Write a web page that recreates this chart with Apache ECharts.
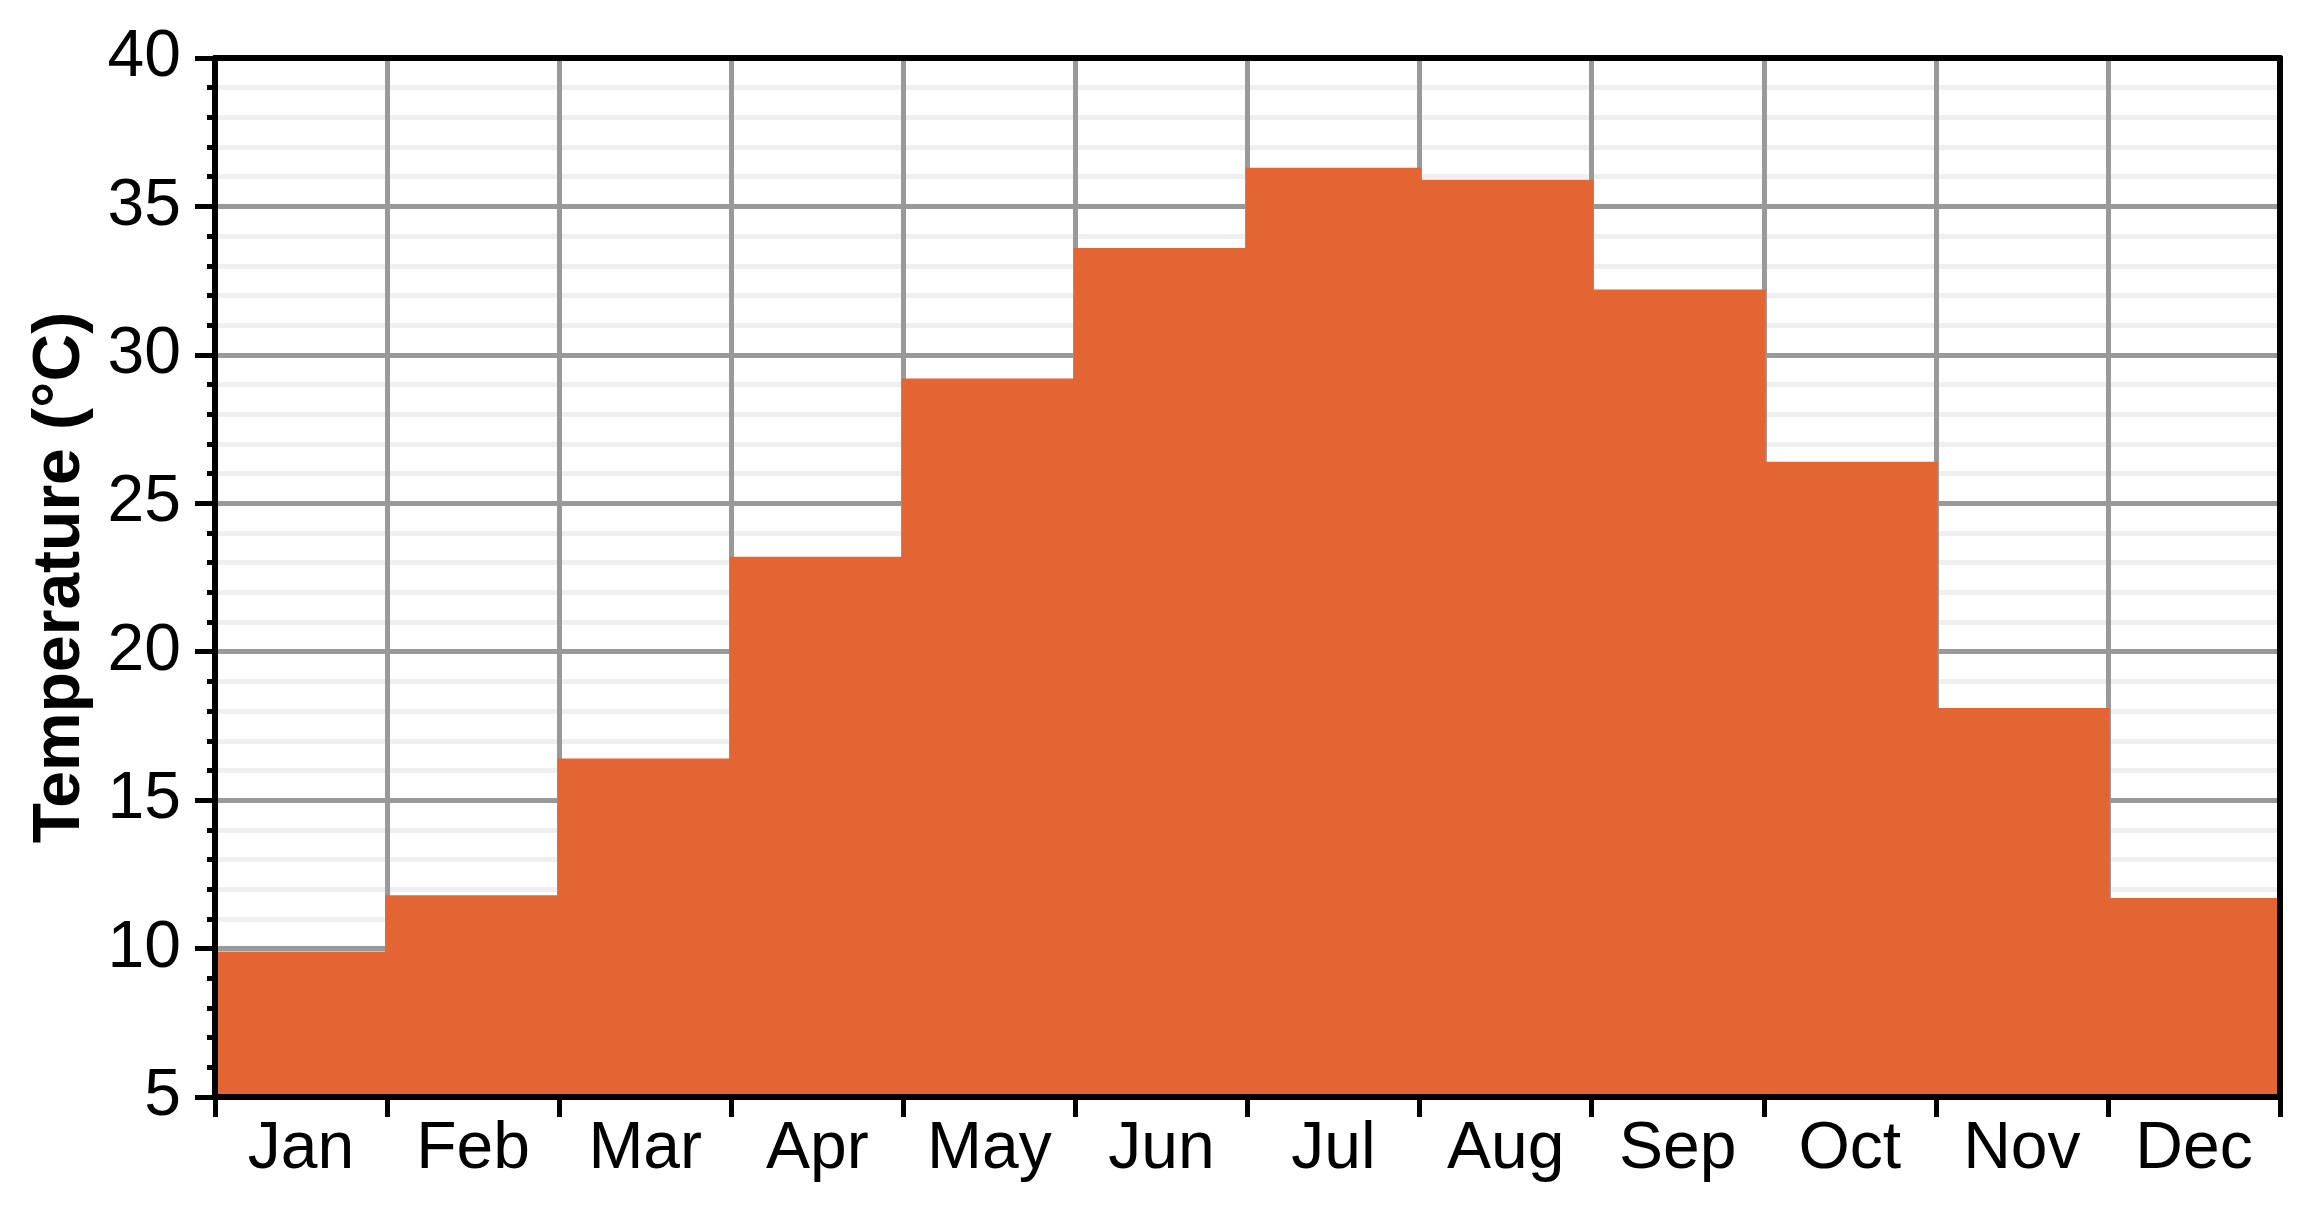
<!DOCTYPE html>
<html>
<head>
<meta charset="utf-8">
<script src="https://cdn.jsdelivr.net/npm/echarts@6/dist/echarts.min.js"></script>
</head>
<body style="margin:0;background:#fff">
<div id="ch" style="width: 2317px; height: 1222px;"></div>
<script>
// monthly mean temperature
var months = ['Jan', 'Feb', 'Mar', 'Apr', 'May', 'Jun', 'Jul', 'Aug', 'Sep', 'Oct', 'Nov', 'Dec']
var temps = [9.9, 11.8, 16.4, 23.2, 29.2, 33.6, 36.3, 35.9, 32.2, 26.4, 18.1, 11.7]
var yMin = 5
var yMax = 40
var yStep = 5

var FONT = 'Liberation Sans'
var barColor = '#e26533'

var chartInst = echarts.init(document.getElementById('ch'))

// axis 0 = grid lines behind the bars, axis 1 = black frame/ticks/labels on top
var option = {
    animation: false,
    grid: { left: 215, right: 37, top: 58, bottom: 125 },
    xAxis: [{
        type: 'category',
        data: months,
        z: 0,
        axisLine: { show: false },
        axisTick: { show: false },
        axisLabel: { show: false },
        splitLine: { show: true, lineStyle: { color: '#999999', width: 5 } }
    }, {
        type: 'category',
        data: months,
        position: 'bottom',
        z: 10,
        axisLine: { show: true, lineStyle: { color: '#000', width: 6 } },
        axisTick: { show: true, inside: false, length: 20, lineStyle: { color: '#000', width: 5 } },
        axisLabel: { color: '#000', fontFamily: FONT, fontSize: 66, margin: 20 },
        splitLine: { show: false }
    }, {
        type: 'category',
        data: months,
        position: 'top',
        z: 10,
        axisLine: { show: true, lineStyle: { color: '#000', width: 6 } },
        axisTick: { show: false },
        axisLabel: { show: false },
        splitLine: { show: false }
    }],
    yAxis: [{
        type: 'value',
        min: yMin,
        max: yMax,
        interval: yStep,
        z: 0,
        axisLine: { show: false },
        axisTick: { show: false },
        axisLabel: { show: false },
        splitLine: { show: true, lineStyle: { color: '#999999', width: 5 } },
        minorTick: { show: false, splitNumber: 5 },
        minorSplitLine: { show: true, lineStyle: { color: '#efefef', width: 5 } }
    }, {
        type: 'value',
        min: yMin,
        max: yMax,
        interval: yStep,
        position: 'left',
        z: 10,
        name: 'Temperature (°C)',
        nameLocation: 'middle',
        nameGap: 121,
        nameTextStyle: { color: '#000', fontFamily: FONT, fontSize: 66, fontWeight: 'bold' },
        axisLine: { show: true, lineStyle: { color: '#000', width: 6 } },
        axisTick: { show: true, inside: false, length: 20, lineStyle: { color: '#000', width: 5 } },
        minorTick: { show: true, splitNumber: 5, length: 8, lineStyle: { color: '#000', width: 5 } },
        axisLabel: { color: '#000', fontFamily: FONT, fontSize: 66, margin: 34 },
        splitLine: { show: false }
    }, {
        type: 'value',
        min: yMin,
        max: yMax,
        interval: yStep,
        position: 'right',
        z: 10,
        axisLine: { show: true, lineStyle: { color: '#000', width: 6 } },
        axisTick: { show: false },
        axisLabel: { show: false },
        splitLine: { show: false }
    }],
    series: [{
        type: 'bar',
        xAxisIndex: 0,
        yAxisIndex: 0,
        data: temps,
        // slightly wider than the band so neighbouring bars overlap, no hairline seams
        barWidth: '102%',
        itemStyle: { color: barColor }
    }]
}
chartInst.setOption(option)
</script>
</body>
</html>
